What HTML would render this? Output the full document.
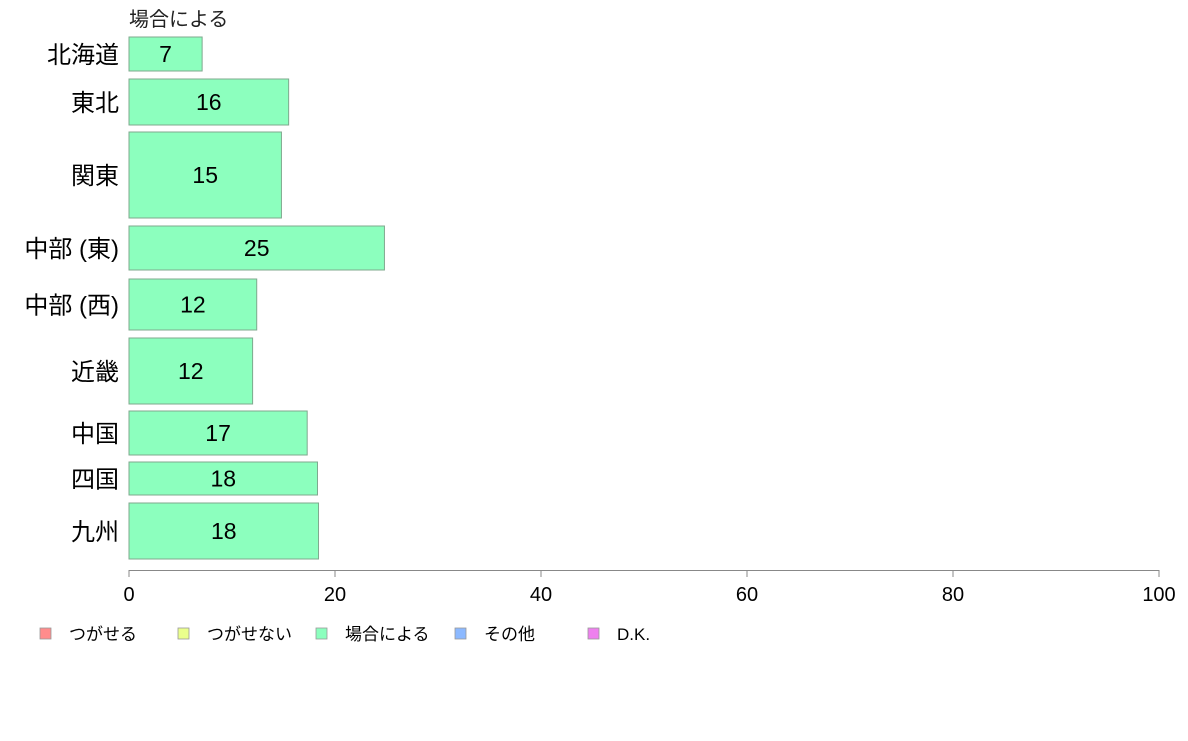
<!DOCTYPE html>
<html><head><meta charset="utf-8"><style>
body{margin:0;background:#fff;font-family:"Liberation Sans","Noto Sans CJK JP",sans-serif}
</style></head><body>
<svg id="c" width="1188" height="736" xmlns="http://www.w3.org/2000/svg" font-family="Liberation Sans, Noto Sans CJK JP, sans-serif"></svg>
<script>
const categories=["北海道","東北","関東","中部 (東)","中部 (西)","近畿","中国","四国","九州"];
const values=[7.1,15.5,14.8,24.8,12.4,12.0,17.3,18.3,18.4];
const bandTop=[37,79,132,226,279,338,411,462,503];
const bandBottom=[71,125,218,270,330,404,455,495,559];
const ticks=[0,20,40,60,80,100];
const legendLabels=["つがせる","つがせない","場合による","その他","D.K."];
const legendColors=["#ff8c8c","#eaff8c","#8cffbe","#8cb9ff","#ee80ee"];
const svg=document.getElementById('c');const NS="http://www.w3.org/2000/svg";
const x0=129,x1=1159;const xs=v=>x0+(x1-x0)*v/100;
function mk(t,a,txt){const e=document.createElementNS(NS,t);for(const k in a)e.setAttribute(k,a[k]);if(txt!=null)e.textContent=txt;svg.appendChild(e);return e;}
let t=mk('text',{x:129,y:26,'font-size':20,fill:'#222'},"場合による");


categories.forEach((c,i)=>{
 const y=bandTop[i],h=bandBottom[i]-bandTop[i];
 const r=mk('rect',{x:x0,y:y,width:xs(values[i])-x0,height:h,fill:'#8cffbe',stroke:'#7fa88e','stroke-width':1});
 
 
 const v=mk('text',{x:(x0+xs(values[i]))/2,y:y+h/2+8,'font-size':23,'text-anchor':'middle',fill:'#000'},Math.round(values[i]));
 
 
 const l=mk('text',{x:119,y:y+h/2+9,'font-size':24,'text-anchor':'end',fill:'#000'},c);
 
 
});
const ax=mk('line',{x1:x0,x2:x1,y1:570.5,y2:570.5,stroke:'#888'});


ticks.forEach(v=>{
 const tk=mk('line',{x1:xs(v),x2:xs(v),y1:570,y2:577,stroke:'#888'});
 
 
 const tl=mk('text',{x:xs(v),y:601,'font-size':20,'text-anchor':'middle',fill:'#000'},v);
 
 
});
const lx=[40,178,316,455,588];
legendLabels.forEach((s,i)=>{
 const r=mk('rect',{x:lx[i],y:628,width:11,height:11,fill:legendColors[i],stroke:'#999','stroke-width':0.8});
 
 
 const tx=mk('text',{x:lx[i]+29,y:640,'font-size':17,fill:'#000'},s);
 
 
});
</script>
</body></html>
